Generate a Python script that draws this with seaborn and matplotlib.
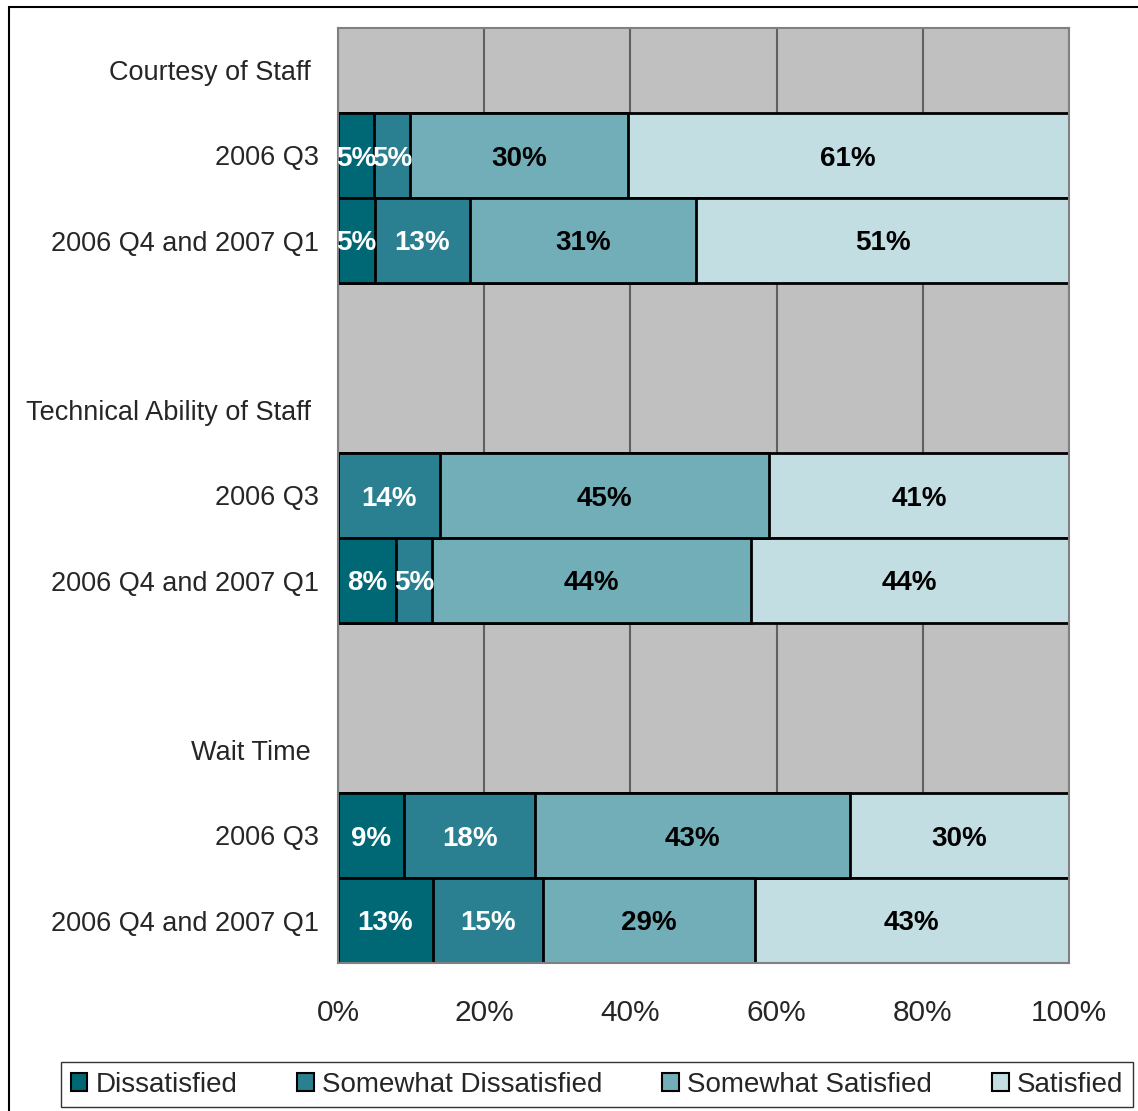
import numpy as np
import pandas as pd
import matplotlib
matplotlib.use("Agg")
import matplotlib.pyplot as plt
from matplotlib.patches import Patch, Rectangle
import seaborn as sns

# rows top to bottom; header and spacer rows carry no bars
row_labels = ["Courtesy of Staff ", "2006 Q3", "2006 Q4 and 2007 Q1",
              "", "Technical Ability of Staff ", "2006 Q3", "2006 Q4 and 2007 Q1",
              "", "Wait Time ", "2006 Q3", "2006 Q4 and 2007 Q1"]
levels = ["Dissatisfied", "Somewhat Dissatisfied", "Somewhat Satisfied", "Satisfied"]
colors = ["#006775", "#2a8090", "#72aeb8", "#c2dee2"]
text_colors = ["white", "white", "black", "black"]

# percentages shown in each bar
bar_rows = [1, 2, 5, 6, 9, 10]
dissatisfied = [5, 5, 0, 8, 9, 13]
somewhat_dissatisfied = [5, 13, 14, 5, 18, 15]
somewhat_satisfied = [30, 31, 45, 44, 43, 29]
satisfied = [61, 51, 41, 44, 30, 43]

vals = np.array([dissatisfied, somewhat_dissatisfied, somewhat_satisfied, satisfied], dtype=float).T
shares = vals / vals.sum(axis=1, keepdims=True) * 100
cum = np.cumsum(shares, axis=1)

keys = [f"r{i}" for i in range(len(row_labels))]
recs = []
for r, row in zip(bar_rows, cum):
    for lev, c in zip(levels, row):
        recs.append({"row": keys[r], "level": lev, "cum": c})
df = pd.DataFrame(recs)

sns.set_style("white")
plt.rcParams["font.family"] = ["Liberation Sans", "DejaVu Sans"]

fig = plt.figure(figsize=(11.38, 11.11), dpi=100)
ax = fig.add_axes([338 / 1138, 1 - 963 / 1111, (1069 - 338) / 1138, (963 - 28) / 1111])
ax.set_facecolor("#c0c0c0")

# draw cumulative bars from the widest down so they stack visually
sns.barplot(data=df, y="row", x="cum", hue="level", hue_order=levels[::-1],
            palette=dict(zip(levels, colors)), order=keys, dodge=False,
            width=1.0, edgecolor="black", linewidth=2, orient="h",
            saturation=1, legend=False, ax=ax, zorder=2)

for r, row_share, row_cum, row_val in zip(bar_rows, shares, cum, vals):
    for k in range(4):
        if row_val[k] == 0:
            continue
        xc = row_cum[k] - row_share[k] / 2
        ax.text(xc, r, f"{int(row_val[k])}%", ha="center", va="center_baseline",
                color=text_colors[k], fontsize=20, fontweight="bold", zorder=5)

ax.set_xlim(0, 100)
ax.set_ylim(len(keys) - 0.5, -0.5)
ax.set_xticks(np.arange(0, 101, 20))
ax.set_xticklabels([f"{t}%" for t in range(0, 101, 20)], fontsize=21.5)
ax.set_yticks(np.arange(len(keys)))
ax.set_yticklabels(row_labels, fontsize=19.5)
ax.set_yticks(np.arange(len(keys) + 1) - 0.5, minor=True)
ax.tick_params(axis="y", which="major", length=0, pad=14)
ax.tick_params(axis="y", which="minor", length=8, width=1.5, color="#707070")
ax.tick_params(axis="x", which="major", length=8, width=1.5, color="#707070", pad=18)
ax.set_xlabel("")
ax.set_ylabel("")
ax.xaxis.grid(True, color="#606060", linewidth=1.5, zorder=0)
ax.set_axisbelow(True)
for s in ax.spines.values():
    s.set_color("#808080")
    s.set_linewidth(1.5)

handles = [Patch(facecolor=c, edgecolor="black", linewidth=1.5) for c in colors]
fig.legend(handles, levels, loc="center",
           bbox_to_anchor=((64 + 1130) / 2 / 1138, 1 - 1084.5 / 1111),
           ncol=4, frameon=True, fancybox=False, edgecolor="black",
           fontsize=20, handlelength=0.6, handleheight=0.6, handletextpad=0.3,
           borderaxespad=0, borderpad=0.35, columnspacing=2.15)

fig.patches.append(Rectangle((9 / 1138, -0.01), 1.02, 1 - 7 / 1111 + 0.01,
                             transform=fig.transFigure, fill=False,
                             edgecolor="black", linewidth=1.5))

fig.savefig("out.png", dpi=100)
